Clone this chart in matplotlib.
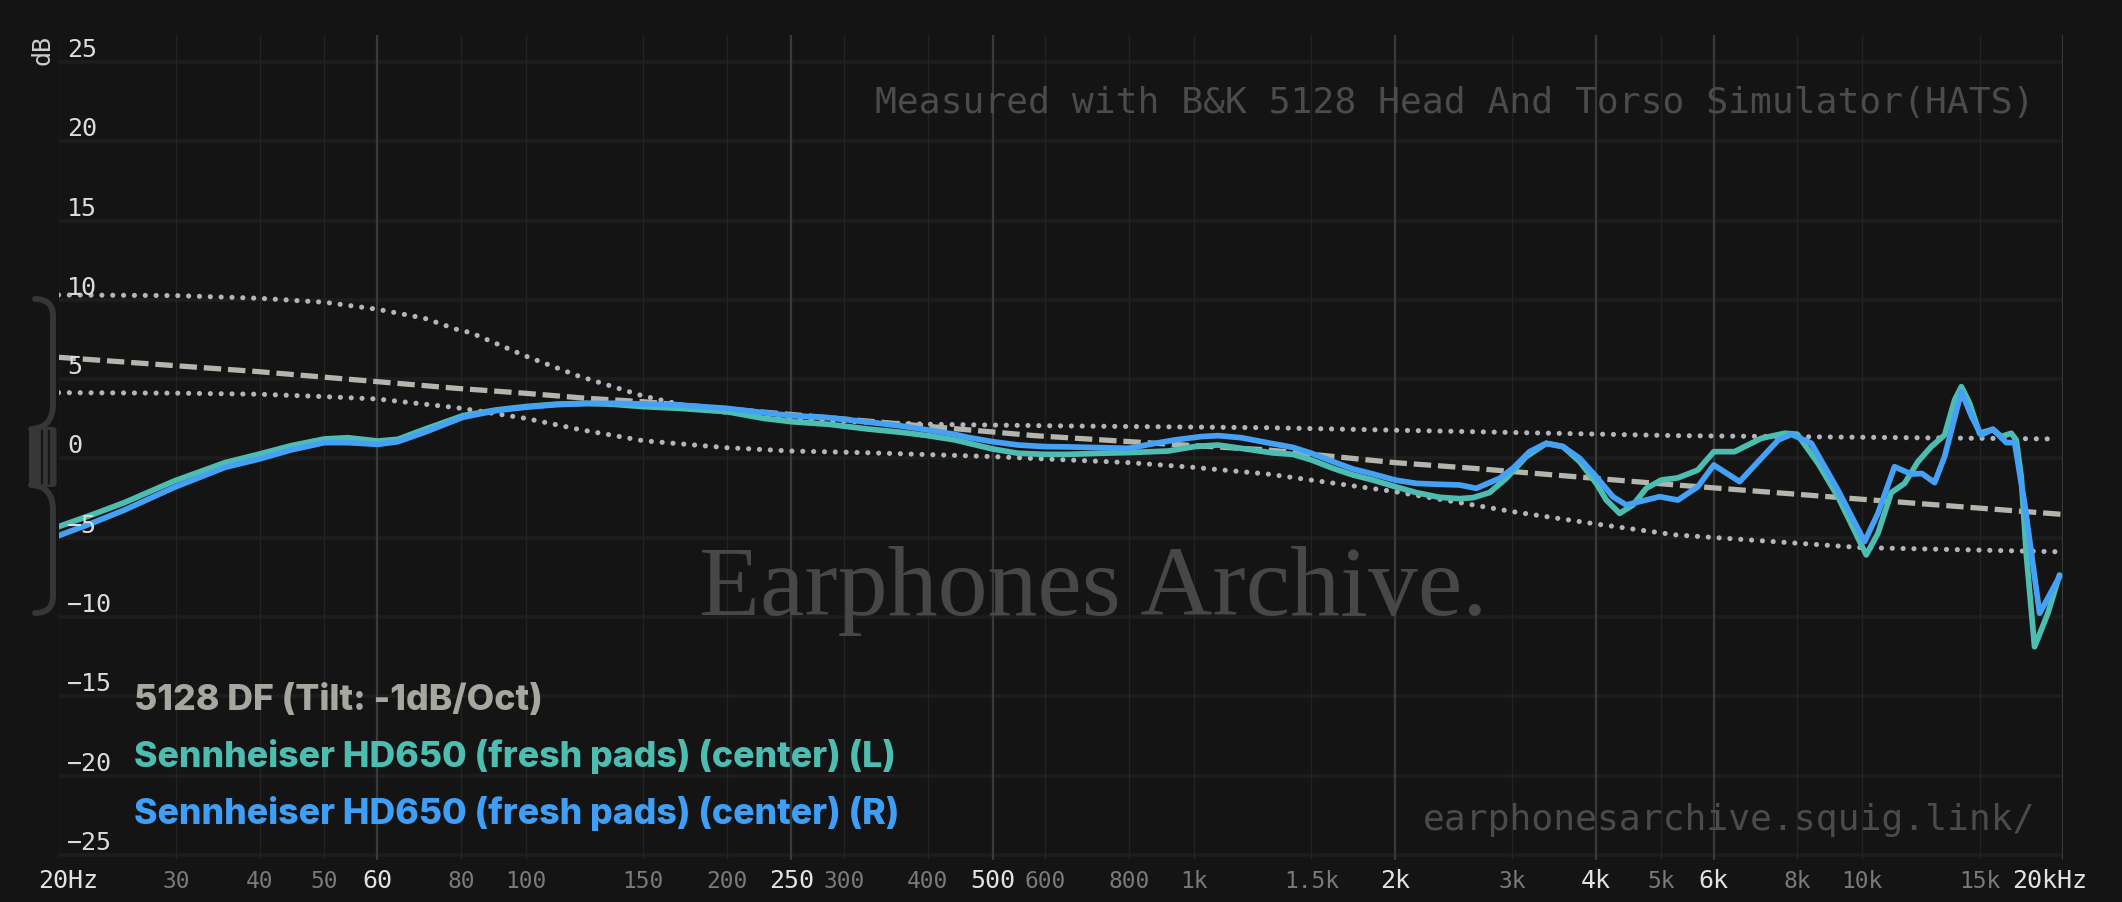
"""Respuesta en frecuencia del Sennheiser HD650 (fresh pads), estilo squig.link.

    python3 plot.py  ->  out.png
"""
import matplotlib
matplotlib.use("Agg")
import matplotlib.pyplot as plt  # noqa: E402
from matplotlib.patches import FancyBboxPatch, PathPatch  # noqa: E402
from matplotlib.path import Path  # noqa: E402
from matplotlib.ticker import NullLocator  # noqa: E402
from matplotlib.transforms import blended_transform_factory, offset_copy  # noqa: E402

W_PX, H_PX, DPI = 2122, 902, 100
BG = "#141414"
TEAL = "#4dbdb1"
BLUE = "#45a1f6"
TARGET_GREY = "#b3b6ad"
DOT_GREY = "#b4b4bc"
MONO = ["DejaVu Sans Mono"]

# --- datos ---------------------------------------------------------------
FREQ_L = [20, 22.4, 25.1, 29.8, 35.5, 39.8, 44.6, 50, 54.2, 60.1, 64.4, 70.6, 80.6,
          90.4, 100, 111, 123, 135, 150, 170, 200, 227, 250, 285, 325, 365, 400, 439,
          500, 546, 598, 648, 727, 800, 915, 1003, 1087, 1178, 1314, 1408, 1500, 1616,
          1731, 1855, 2003, 2154, 2334, 2500, 2618, 2772, 2937, 3146, 3370, 3570, 3782,
          4004, 4145, 4340, 4544, 4757, 5008, 5306, 5682, 6004, 6450, 7070, 7662, 8004,
          8596, 9208, 10152, 10570, 11066, 11586, 12132, 12703, 13300, 13768, 14090,
          14494, 15002, 15710, 16166, 16732, 17022, 17318, 17620, 18132, 18986, 19760]
DB_L = [-4.30, -3.56, -2.78, -1.42, -0.26, 0.26, 0.81, 1.23, 1.31, 1.10, 1.21, 1.84, 2.70,
        3.06, 3.27, 3.42, 3.48, 3.42, 3.27, 3.16, 2.95, 2.53, 2.32, 2.15, 1.86, 1.65, 1.44,
        1.17, 0.60, 0.33, 0.26, 0.26, 0.33, 0.37, 0.47, 0.75, 0.85, 0.64, 0.35, 0.26, -0.09,
        -0.62, -1.04, -1.36, -1.78, -2.15, -2.45, -2.53, -2.47, -2.15, -1.25, 0.12, 0.95,
        0.75, -0.20, -1.57, -2.62, -3.46, -2.93, -1.88, -1.36, -1.22, -0.73, 0.43, 0.43,
        1.27, 1.59, 1.53, -0.30, -2.41, -6.08, -4.72, -2.15, -1.57, -0.20, 0.75, 1.48,
        3.69, 4.53, 3.48, 1.59, 1.84, 1.38, 1.59, 1.17, -1.15, -5.98, -11.87, -9.76, -7.35]

FREQ_R = [20, 22.4, 25.1, 29.8, 35.5, 39.8, 44.6, 50, 54.2, 60.1, 64.4, 70.6, 80.6,
          90.4, 100, 111, 123, 135, 150, 170, 200, 227, 250, 285, 325, 365, 400, 439, 459,
          500, 546, 598, 648, 727, 800, 864, 937, 1026, 1087, 1178, 1314, 1408, 1500,
          1616, 1731, 1855, 2003, 2154, 2334, 2500, 2648, 2870, 3004, 3182, 3370, 3570,
          3782, 4004, 4240, 4440, 4648, 4980, 5306, 5682, 6004, 6562, 7070, 7500, 7840,
          8402, 9208, 10094, 10570, 11190, 11850, 12300, 12850, 13300, 14090, 14600,
          15090, 15710, 16450, 16930, 17520, 18450, 19760]
DB_R = [-4.87, -4.09, -3.25, -1.82, -0.56, -0.05, 0.54, 1.00, 1.00, 0.89, 1.06, 1.65, 2.60,
        3.02, 3.23, 3.39, 3.46, 3.48, 3.44, 3.37, 3.16, 2.89, 2.70, 2.57, 2.30, 2.05, 1.80,
        1.52, 1.33, 1.06, 0.85, 0.75, 0.73, 0.68, 0.64, 0.91, 1.17, 1.38, 1.44, 1.31, 0.93,
        0.70, 0.33, -0.20, -0.66, -0.98, -1.36, -1.57, -1.63, -1.67, -1.88, -1.25, -0.62,
        0.43, 0.96, 0.75, 0.01, -1.15, -2.41, -2.93, -2.72, -2.41, -2.62, -1.78, -0.41,
        -1.46, 0.01, 1.17, 1.52, 0.96, -1.99, -5.24, -3.46, -0.52, -0.98, -0.95, -1.52,
        0.12, 4.21, 2.64, 1.48, 1.84, 1.00, 1.00, -2.83, -9.76, -7.45]

# 5128 DF con inclinacion de -1 dB/oct (linea discontinua)
FREQ_TARGET = [20, 40, 79, 100, 123, 150, 333, 578, 914, 1290, 2000, 2620, 5270, 10000, 19900]
DB_TARGET = [6.38, 5.47, 4.42, 4.11, 3.80, 3.58, 2.32, 1.44, 0.91, 0.54, -0.26, -0.62,
             -1.67, -2.57, -3.52]

# limites punteados superior e inferior
FREQ_UPPER = [20, 30, 40, 50, 60, 70.6, 78.9, 82.8, 100, 120, 150, 175, 200, 250, 325, 410,
              648, 1290, 5270, 19600]
DB_UPPER = [10.31, 10.27, 10.10, 9.85, 9.41, 8.84, 8.14, 7.93, 6.46, 5.20, 3.94, 3.30, 2.90,
            2.50, 2.28, 2.15, 2.05, 1.94, 1.44, 1.23]
FREQ_LOWER = [20, 30, 40, 50, 60, 79, 100, 120, 150, 200, 250, 320, 500, 600, 800, 1000,
              1290, 2000, 3000, 4000, 5270, 10000, 19600]
DB_LOWER = [4.15, 4.12, 4.05, 3.90, 3.75, 3.20, 2.53, 1.84, 1.12, 0.68, 0.47, 0.37, 0.12,
            -0.03, -0.26, -0.56, -0.98, -2.09, -3.35, -4.13, -4.82, -5.62, -5.88]

MAJOR_TICKS = [20, 60, 250, 500, 2000, 4000, 6000, 20000]
MAJOR_LABELS = ["20Hz", "60", "250", "500", "2k", "4k", "6k", "20kHz"]
MINOR_TICKS = [30, 40, 50, 80, 100, 150, 200, 300, 400, 600, 800, 1000, 1500, 3000, 5000,
               8000, 10000, 15000]
MINOR_LABELS = ["30", "40", "50", "80", "100", "150", "200", "300", "400", "600", "800",
                "1k", "1.5k", "3k", "5k", "8k", "10k", "15k"]
DB_TICKS = [-25, -20, -15, -10, -5, 0, 5, 10, 15, 20, 25]

LEGEND_TEXT = ["5128 DF (Tilt: -1dB/Oct)",
               "Sennheiser HD650 (fresh pads) (center) (L)",
               "Sennheiser HD650 (fresh pads) (center) (R)"]
LEGEND_COLOR = ["#a6a89f", TEAL, "#3f9ef5"]


def rejilla(ax):
    for y in DB_TICKS:
        ax.axhline(y, color="#1d1d1d", lw=2.6, zorder=0)
    for f in MINOR_TICKS:
        ax.axvline(f, color="#232323", lw=1.0, zorder=0)
    for f in MAJOR_TICKS:
        ax.axvline(f, color="#393939", lw=1.6, zorder=0)


def etiquetas(fig, ax):
    ytrans = offset_copy(blended_transform_factory(ax.transAxes, ax.transData),
                         fig=fig, x=8.5, y=0, units="dots")
    for y in DB_TICKS:
        ax.text(0, y, f"{y}".replace("-", "\u2212"), transform=ytrans, ha="left",
                va="bottom", fontsize=18, color="#dcdcdc", family=MONO, zorder=6)

    base = blended_transform_factory(ax.transData, ax.transAxes)
    desplaza = {"20Hz": 10, "20kHz": -13}
    for f, txt in zip(MAJOR_TICKS, MAJOR_LABELS):
        tr = offset_copy(base, fig=fig, x=desplaza.get(txt, 0), y=-9.5, units="dots")
        ax.text(f, 0, txt, transform=tr, ha="center", va="top", fontsize=18,
                color="#e2e2e2", family=MONO, clip_on=False)
    for f, txt in zip(MINOR_TICKS, MINOR_LABELS):
        tr = offset_copy(base, fig=fig, y=-9.5, units="dots")
        ax.text(f, 0, txt, transform=tr, ha="center", va="top", fontsize=16.5,
                color="#7a7a7a", family=MONO, clip_on=False)


def llave(deco):
    """Asa de arrastre del eje vertical (la llave gris de la izquierda)."""
    gris = "#363636"
    codes3 = [Path.MOVETO, Path.CURVE3, Path.CURVE3, Path.LINETO, Path.CURVE3, Path.CURVE3]
    arriba = Path([(35, 299), (53, 299), (53, 316), (53, 404), (53, 428), (31, 429)], codes3)
    abajo = Path([(31, 485), (53, 486), (53, 510), (53, 596), (53, 613), (35, 613)], codes3)
    for p in (arriba, abajo):
        deco.add_patch(PathPatch(p, fill=False, edgecolor=gris, lw=4.2, capstyle="round"))
    deco.add_patch(FancyBboxPatch((29, 427), 27.5, 60, boxstyle="round,pad=0,rounding_size=4",
                                  facecolor=gris, edgecolor="none"))
    for x in (41.7, 49.3):
        deco.plot([x, x], [431, 483], color="#161616", lw=1.6)
    deco.text(42.5, 35, "dB", rotation=90, ha="center", va="top", fontsize=18,
              color="#cfcfcf", family=MONO)


def main():
    fig = plt.figure(figsize=(W_PX / DPI, H_PX / DPI), dpi=DPI, facecolor=BG)
    ax = fig.add_axes([58.5 / W_PX, 42 / H_PX, 2004.5 / W_PX, 825 / H_PX])
    ax.set_facecolor(BG)
    ax.set_xscale("log")
    ax.set_xlim(20, 20000)
    ax.set_ylim(-25.315, 26.70)
    ax.xaxis.set_major_locator(NullLocator())
    ax.xaxis.set_minor_locator(NullLocator())
    ax.yaxis.set_major_locator(NullLocator())
    for s in ax.spines.values():
        s.set_visible(False)

    rejilla(ax)

    ax.text(0.516, 0.297, "Earphones Archive.", transform=ax.transAxes, ha="center",
            va="baseline", fontsize=72, color="#474747", family=["Liberation Serif"],
            zorder=1)
    ax.text(0.9855, 0.905, "Measured with B&K 5128 Head And Torso Simulator(HATS)",
            transform=ax.transAxes, ha="right", va="baseline", fontsize=26.2,
            color="#4b4b4b", family=MONO, zorder=1)
    ax.text(0.986, 0.0364, "earphonesarchive.squig.link/", transform=ax.transAxes,
            ha="right", va="baseline", fontsize=26.2, color="#4b4b4b", family=MONO, zorder=1)

    (sup,) = ax.plot(FREQ_UPPER, DB_UPPER, color=DOT_GREY, lw=3.7, dashes=(0.01, 2.1), zorder=2)
    (inf,) = ax.plot(FREQ_LOWER, DB_LOWER, color=DOT_GREY, lw=3.7, dashes=(0.01, 2.1), zorder=2)
    for linea in (sup, inf):
        linea.set_dash_capstyle("round")
    ax.plot(FREQ_TARGET, DB_TARGET, color=TARGET_GREY, lw=3.8, dashes=(3.3, 1.3), zorder=3)

    ax.plot(FREQ_L, DB_L, color=TEAL, lw=4.1, solid_joinstyle="round",
            solid_capstyle="round", zorder=4)
    ax.plot(FREQ_R, DB_R, color=BLUE, lw=4.1, solid_joinstyle="round",
            solid_capstyle="round", zorder=5)

    etiquetas(fig, ax)

    for txt, color, yb in zip(LEGEND_TEXT, LEGEND_COLOR, (0.1818, 0.1131, 0.0436)):
        ax.text(0.0377, yb, txt, transform=ax.transAxes, ha="left", va="baseline",
                fontsize=25.7, fontweight="heavy", color=color,
                family=["Inter", "DejaVu Sans"], zorder=7)

    deco = fig.add_axes([0, 0, 1, 1], facecolor="none")
    deco.set_xlim(0, W_PX)
    deco.set_ylim(H_PX, 0)
    deco.axis("off")
    llave(deco)

    fig.savefig("out.png", dpi=DPI, facecolor=BG)
    plt.close(fig)


if __name__ == "__main__":
    main()
